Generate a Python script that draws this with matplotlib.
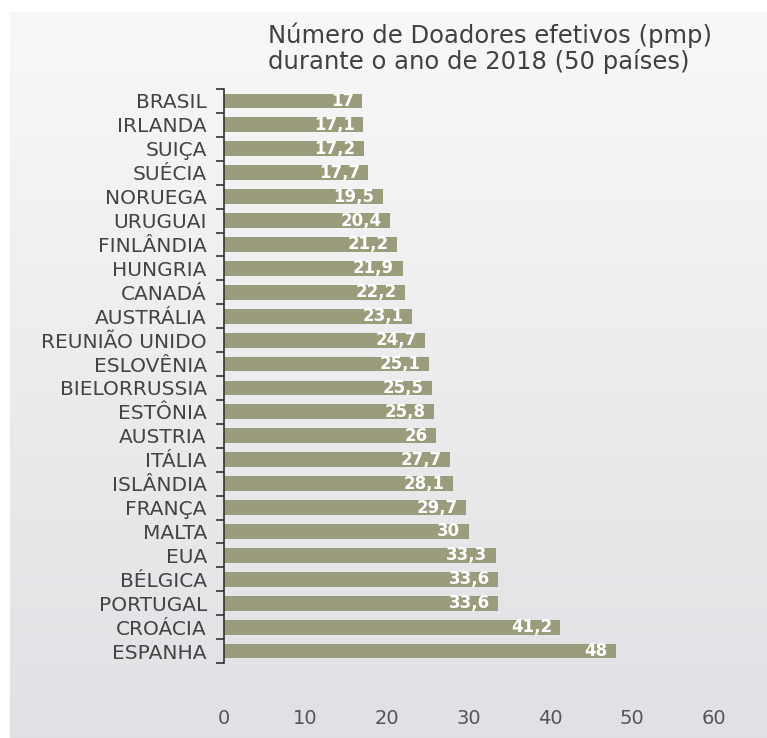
import numpy as np
import matplotlib.pyplot as plt

# Doadores efetivos (pmp) em 2018
paises = ["BRASIL", "IRLANDA", "SUIÇA", "SUÉCIA", "NORUEGA", "URUGUAI",
          "FINLÂNDIA", "HUNGRIA", "CANADÁ", "AUSTRÁLIA", "REUNIÃO UNIDO",
          "ESLOVÊNIA", "BIELORRUSSIA", "ESTÔNIA", "AUSTRIA", "ITÁLIA",
          "ISLÂNDIA", "FRANÇA", "MALTA", "EUA", "BÉLGICA", "PORTUGAL",
          "CROÁCIA", "ESPANHA"]
doadores = [17, 17.1, 17.2, 17.7, 19.5, 20.4, 21.2, 21.9, 22.2, 23.1, 24.7,
            25.1, 25.5, 25.8, 26, 27.7, 28.1, 29.7, 30, 33.3, 33.6, 33.6,
            41.2, 48]
rotulos = ["17", "17,1", "17,2", "17,7", "19,5", "20,4", "21,2", "21,9",
           "22,2", "23,1", "24,7", "25,1", "25,5", "25,8", "26", "27,7",
           "28,1", "29,7", "30", "33,3", "33,6", "33,6", "41,2", "48"]
xticks = [0, 10, 20, 30, 40, 50, 60]

fig = plt.figure(figsize=(7.67, 7.38), dpi=100)
fig.patch.set_facecolor("white")

# fundo com gradiente cinza
bg = fig.add_axes([10 / 767, 0, 1 - 10 / 767, 1 - 12 / 738])
grad = np.linspace(0, 1, 256).reshape(-1, 1)
top = np.array([0.972, 0.972, 0.972])
bot = np.array([0.882, 0.882, 0.898])
img = top + grad[:, :, None] * (bot - top)
bg.imshow(img, aspect="auto", extent=[0, 1, 0, 1])
bg.axis("off")

ax = fig.add_axes([223.5 / 767, 1 - 663 / 738, 490.5 / 767, 574 / 738])
ax.set_facecolor("none")

y = np.arange(len(paises))
ax.barh(y, doadores, height=0.62, color="#9b9c7c")
for yi, v, r in zip(y, doadores, rotulos):
    ax.annotate(r, (v, yi), xytext=(-6, 0), textcoords="offset points",
                ha="right", va="center", color="white", fontsize=12,
                fontweight="semibold")

ax.set_xlim(0, 60)
ax.set_ylim(len(paises) - 0.5, -0.5)
ax.set_yticks(y)
ax.set_yticklabels(paises, fontsize=14.5, color="#444444")
ax.set_yticks(np.arange(len(paises) + 1) - 0.5, minor=True)
ax.tick_params(axis="y", which="major", length=0, pad=12)
ax.tick_params(axis="y", which="minor", length=6, direction="out",
               color="#333333", width=1.2)
ax.set_xticks(xticks)
ax.set_xticklabels([str(t) for t in xticks], fontsize=14, color="#555555")
ax.tick_params(axis="x", length=0, pad=33)

for s in ["top", "right", "bottom"]:
    ax.spines[s].set_visible(False)
ax.spines["left"].set_color("#333333")
ax.spines["left"].set_linewidth(1.2)

fig.text(268 / 767, 1 - 22 / 738,
         "Número de Doadores efetivos (pmp)\ndurante o ano de 2018 (50 países)",
         ha="left", va="top", fontsize=17.5, color="#404040", linespacing=1.1)

fig.savefig("out.png", dpi=100)
